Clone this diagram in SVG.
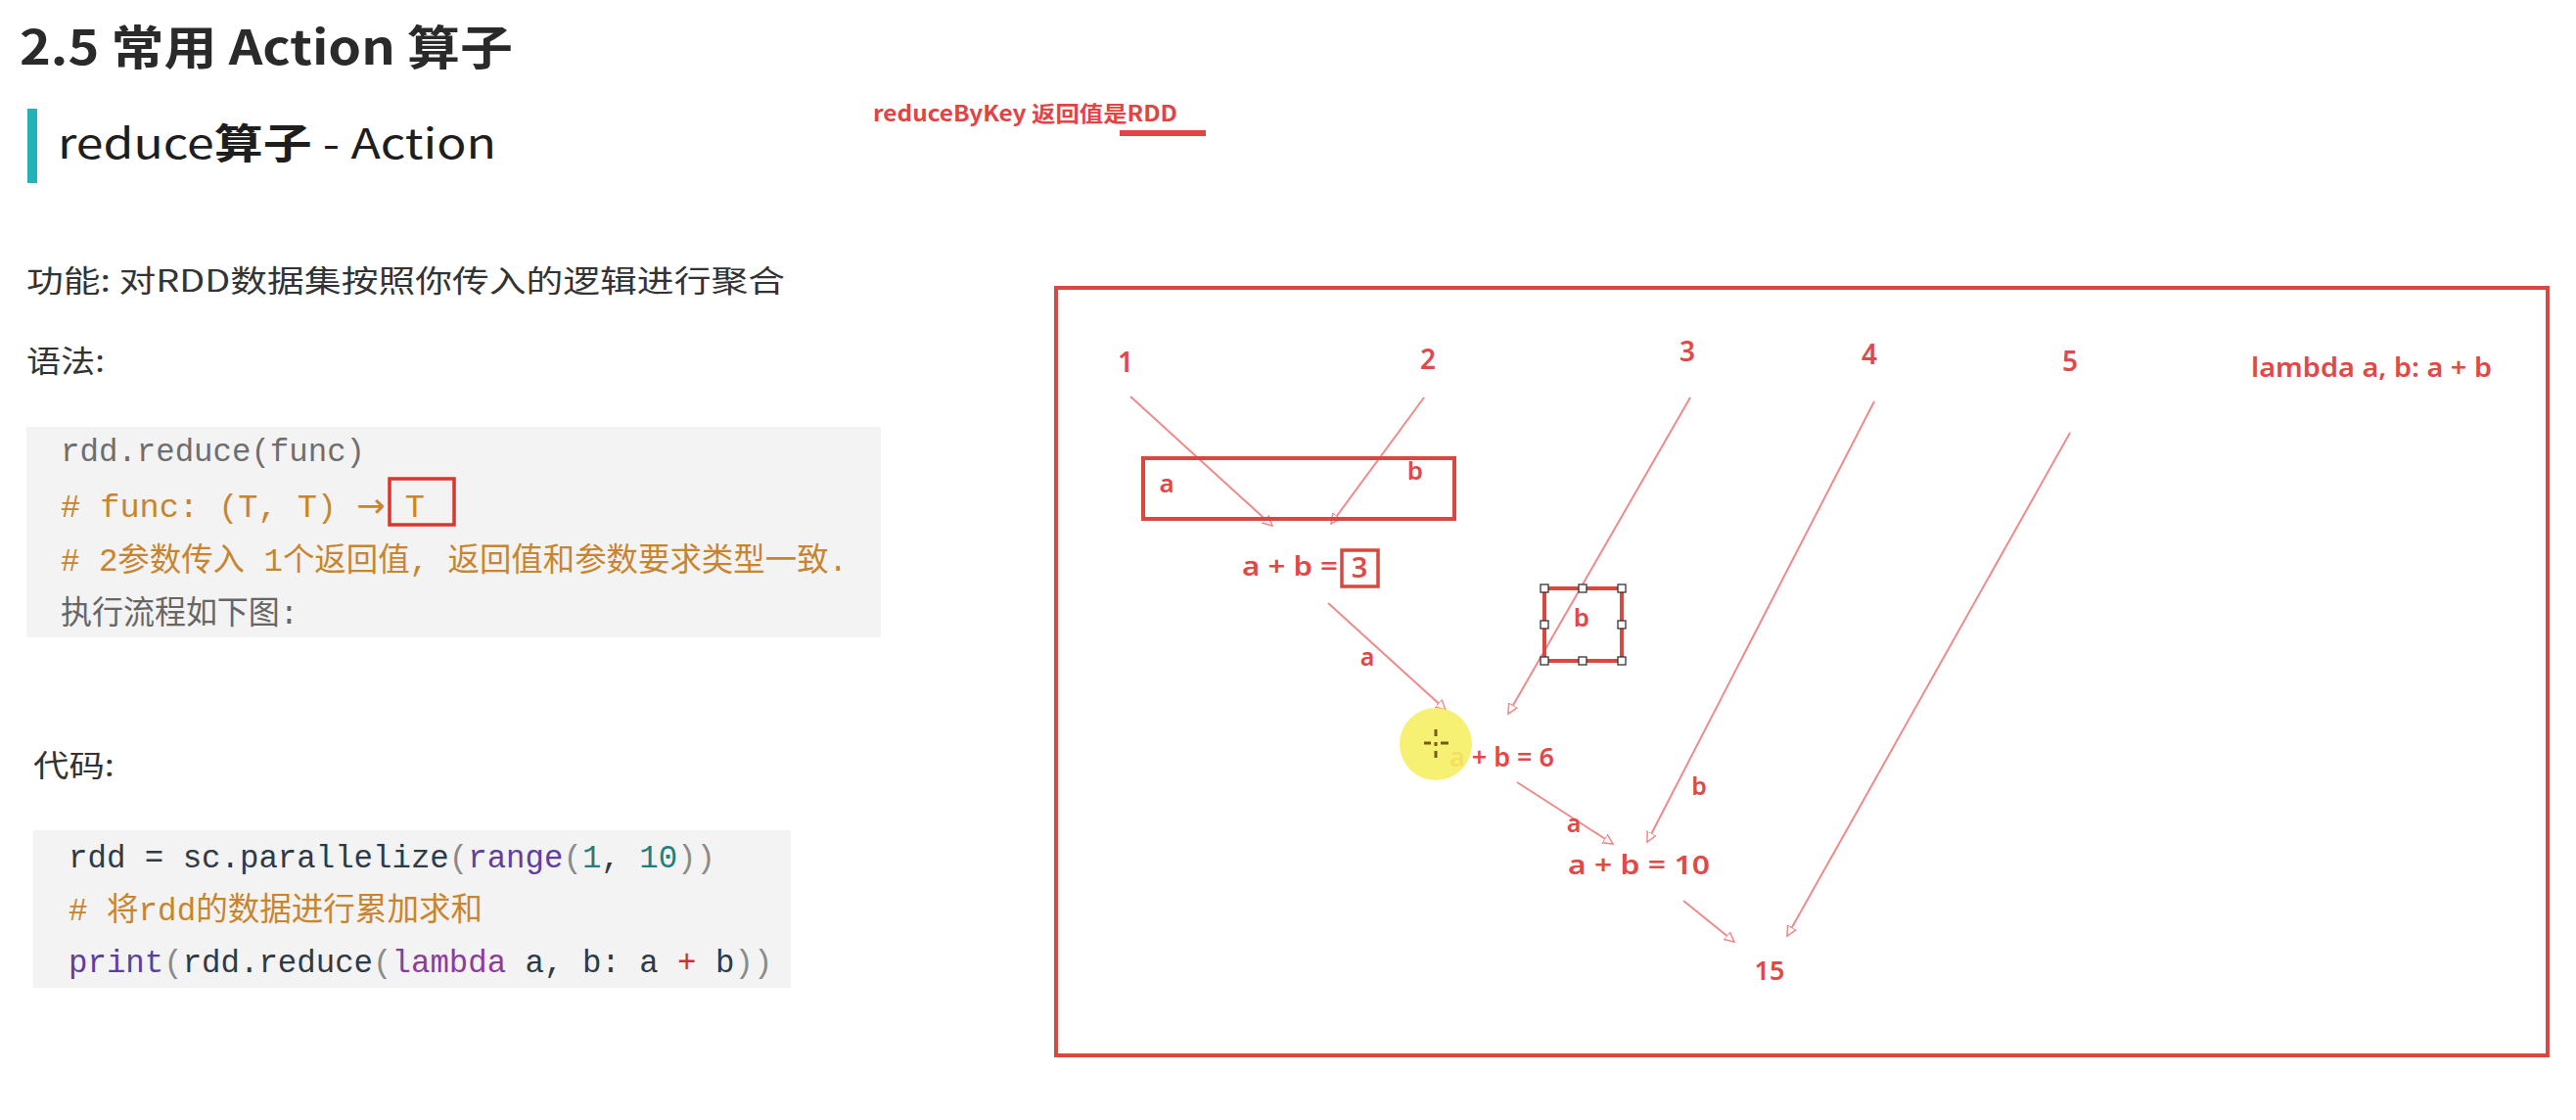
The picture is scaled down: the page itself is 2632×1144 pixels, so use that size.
<svg xmlns="http://www.w3.org/2000/svg" width="2632" height="1144" viewBox="0 0 2632 1144">
<defs>
<style>
.cjk{font-family:"Noto Sans CJK SC","Noto Sans",sans-serif;}
.mono{font-family:"Liberation Mono","DejaVu Sans Mono","Noto Sans CJK SC",monospace;font-size:32.4px;}
.cmt{fill:#C8852E;}
.dk{fill:#2E3A46;}
.gy{fill:#8A8A8A;}
.pu{fill:#5E3FA0;}
.mg{fill:#8C3C9C;}
.tl{fill:#1F7F80;}
.rd{font-family:"Noto Sans","Noto Sans CJK SC",sans-serif;font-weight:600;fill:#E24848;}
.frame{fill:none;stroke:#D9473F;stroke-width:4;}
.conn{stroke:#F08A8A;stroke-width:2;fill:none;marker-end:url(#arr);}
.hd{fill:#fff;stroke:#333;stroke-width:1.3;}
</style>
<marker id="arr" markerWidth="12" markerHeight="12" refX="10" refY="5" orient="auto" markerUnits="userSpaceOnUse" viewBox="0 0 12 10">
<path d="M0,0 L10,5 L0,10 z" fill="#fff" stroke="#F08A8A" stroke-width="1.5"/>
</marker>
</defs>
<rect width="2632" height="1144" fill="#fff"/>

<g id="heading">
<text class="cjk" x="20" y="66" font-size="48" font-weight="700" fill="#2A2A2A" textLength="504" lengthAdjust="spacingAndGlyphs">2.5 常用 Action 算子</text>
<rect x="28" y="111" width="10" height="76" fill="#22B2B8"/>
<text class="cjk" x="59" y="162" font-size="42" fill="#1E1E1E" textLength="448" lengthAdjust="spacingAndGlyphs">reduce<tspan font-weight="700">算子</tspan> - Action</text>
</g>

<g id="note-reducebykey">
<text class="cjk" x="892" y="124" font-size="22" font-weight="700" fill="#E04444" textLength="311" lengthAdjust="spacingAndGlyphs">reduceByKey 返回值是RDD</text>
<rect x="1144" y="133" width="88" height="6" fill="#E04444"/>
</g>

<g id="description">
<text class="cjk" x="27" y="298" font-size="31" fill="#333" textLength="775" lengthAdjust="spacingAndGlyphs">功能: 对RDD数据集按照你传入的逻辑进行聚合</text>
<text class="cjk" x="27" y="380" font-size="31" fill="#333" textLength="80" lengthAdjust="spacingAndGlyphs">语法:</text>
</g>

<g id="syntax-block">
<rect x="27" y="436" width="873" height="215" fill="#F3F3F3"/>
<text class="mono" x="62" y="471" fill="#6E6E6E">rdd.reduce(func)</text>
<text class="mono cmt" x="62" y="528" textLength="372" lengthAdjust="spacingAndGlyphs"># func: (T, T) <tspan font-family="DejaVu Sans" font-size="34">→</tspan> T</text>
<rect x="398" y="489" width="66" height="47" fill="none" stroke="#D9362F" stroke-width="3.5"/>
<text class="mono cmt" x="62" y="583" textLength="804" lengthAdjust="spacingAndGlyphs"># 2参数传入 1个返回值, 返回值和参数要求类型一致.</text>
<text class="mono" x="62" y="637" fill="#666" textLength="243" lengthAdjust="spacingAndGlyphs">执行流程如下图:</text>
</g>

<g id="code-label">
<text class="cjk" x="34" y="793" font-size="31" fill="#333" textLength="83" lengthAdjust="spacingAndGlyphs">代码:</text>
</g>

<g id="code-block">
<rect x="34" y="848" width="774" height="161" fill="#F3F3F3"/>
<text class="mono" x="70" y="886"><tspan class="dk">rdd = sc.parallelize</tspan><tspan class="gy">(</tspan><tspan class="pu">range</tspan><tspan class="gy">(</tspan><tspan class="tl">1</tspan><tspan class="dk">, </tspan><tspan class="tl">10</tspan><tspan class="gy">))</tspan></text>
<text class="mono cmt" x="70" y="940" textLength="423" lengthAdjust="spacingAndGlyphs"># 将rdd的数据进行累加求和</text>
<text class="mono" x="70" y="993"><tspan class="pu">print</tspan><tspan class="gy">(</tspan><tspan class="dk">rdd.reduce</tspan><tspan class="gy">(</tspan><tspan class="mg">lambda</tspan><tspan class="dk"> a, b: a </tspan><tspan fill="#C83232">+</tspan><tspan class="dk"> b</tspan><tspan class="gy">))</tspan></text>
</g>

<g id="frame">
<rect class="frame" x="1079" y="294" width="1524" height="784"/>
</g>

<g id="connectors">
<line class="conn" x1="1155" y1="405" x2="1300" y2="537"/>
<line class="conn" x1="1455" y1="406" x2="1360" y2="535"/>
<line class="conn" x1="1727" y1="406" x2="1541" y2="729"/>
<line class="conn" x1="1357" y1="616" x2="1477" y2="725"/>
<line class="conn" x1="1550" y1="799" x2="1648" y2="862"/>
<line class="conn" x1="1915" y1="410" x2="1683" y2="860"/>
<line class="conn" x1="1720" y1="920" x2="1772" y2="962"/>
<line class="conn" x1="2115" y1="442" x2="1826" y2="956"/>
</g>

<g id="n1"><text class="rd" x="1150" y="380" font-size="28" text-anchor="middle">1</text></g>
<g id="n2"><text class="rd" x="1459" y="377" font-size="28" text-anchor="middle">2</text></g>
<g id="n3"><text class="rd" x="1724" y="369" font-size="28" text-anchor="middle">3</text></g>
<g id="n4"><text class="rd" x="1910" y="372" font-size="28" text-anchor="middle">4</text></g>
<g id="n5"><text class="rd" x="2115" y="379" font-size="28" text-anchor="middle">5</text></g>
<g id="lambda"><text class="rd" x="2300" y="385" font-size="27" textLength="246" lengthAdjust="spacingAndGlyphs">lambda a, b: a + b</text></g>

<g id="ab-box">
<rect class="frame" x="1168" y="468" width="318" height="62"/>
<text class="rd" x="1192" y="503" font-size="26" text-anchor="middle">a</text>
<text class="rd" x="1446" y="490" font-size="26" text-anchor="middle">b</text>
</g>

<g id="sum3">
<text class="rd" x="1269" y="588" font-size="27" textLength="98" lengthAdjust="spacingAndGlyphs">a + b =</text>
<rect x="1371" y="562" width="37" height="37" fill="none" stroke="#D9473F" stroke-width="3.5"/>
<text class="rd" x="1389" y="590" font-size="29" text-anchor="middle">3</text>
</g>

<g id="b-box">
<rect class="frame" x="1578" y="601" width="79" height="74"/>
<text class="rd" x="1616" y="640" font-size="26" text-anchor="middle">b</text>
<rect class="hd" x="1574" y="597" width="8" height="8"/>
<rect class="hd" x="1613" y="597" width="8" height="8"/>
<rect class="hd" x="1653" y="597" width="8" height="8"/>
<rect class="hd" x="1574" y="634" width="8" height="8"/>
<rect class="hd" x="1653" y="634" width="8" height="8"/>
<rect class="hd" x="1574" y="671" width="8" height="8"/>
<rect class="hd" x="1613" y="671" width="8" height="8"/>
<rect class="hd" x="1653" y="671" width="8" height="8"/>
</g>

<g id="label-a1"><text class="rd" x="1397" y="680" font-size="25" text-anchor="middle">a</text></g>

<g id="sum6">
<text class="rd" x="1588" y="783" font-size="27" text-anchor="end">a + b = 6</text>
</g>

<g id="label-a2"><text class="rd" x="1608" y="850" font-size="25" text-anchor="middle">a</text></g>
<g id="label-b2"><text class="rd" x="1736" y="812" font-size="25" text-anchor="middle">b</text></g>

<g id="sum10"><text class="rd" x="1602" y="893" font-size="27" textLength="145" lengthAdjust="spacingAndGlyphs">a + b = 10</text></g>

<g id="result15"><text class="rd" x="1808" y="1001" font-size="27" text-anchor="middle">15</text></g>

<g id="cursor">
<circle cx="1467" cy="760" r="37" fill="#F5F064" opacity="0.9"/>
<g stroke="#7A5A12" stroke-width="3">
<line x1="1467" y1="745" x2="1467" y2="752"/>
<line x1="1467" y1="758" x2="1467" y2="762"/>
<line x1="1467" y1="767" x2="1467" y2="774"/>
<line x1="1455" y1="759" x2="1462" y2="759"/>
<line x1="1472" y1="759" x2="1480" y2="759"/>
</g>
</g>
</svg>
